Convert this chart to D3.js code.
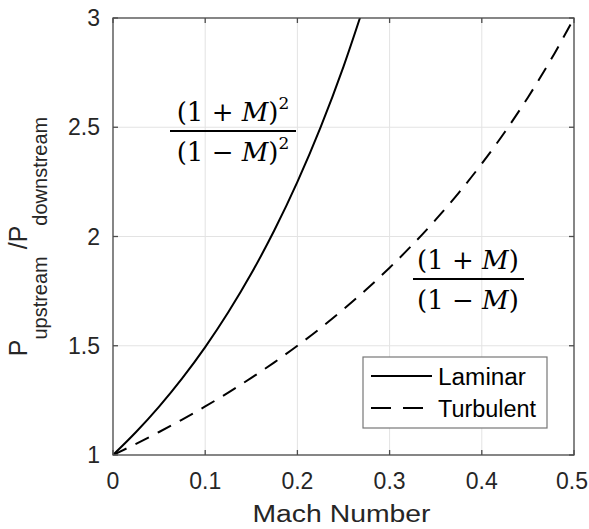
<!DOCTYPE html>
<html><head><meta charset="utf-8">
<script src="https://cdn.jsdelivr.net/npm/d3@7"></script>
<style>body{margin:0;background:#fff}svg{display:block}</style>
</head><body>
<script>
const machLaminar = [0,0.025,0.05,0.075,0.1,0.125,0.15,0.175,0.2,0.225,0.25,0.275];
const laminarRatio = [1,1.1052,1.2216,1.3507,1.4938,1.6531,1.8304,2.0284,2.25,2.4983,2.7778,3.0927];
const machTurbulent = [0,0.025,0.05,0.075,0.1,0.125,0.15,0.175,0.2,0.225,0.25,0.275,0.3,0.325,0.35,0.375,0.4,0.425,0.45,0.475,0.5];
const turbulentRatio = [1,1.0513,1.1053,1.1622,1.2222,1.2857,1.3529,1.4242,1.5,1.5806,1.6667,1.7586,1.8571,1.963,2.0769,2.2,2.3333,2.4783,2.6364,2.8095,3];
const xTicks = [0,0.1,0.2,0.3,0.4,0.5];
const xTickLabels = ["0","0.1","0.2","0.3","0.4","0.5"];
const yTicks = [1,1.5,2,2.5,3];
const yTickLabels = ["1","1.5","2","2.5","3"];
const seriesNames = ["Laminar","Turbulent"];

const W=589,H=529;
const L=113,R=574,T=18,B=455;
const svg=d3.select("body").append("svg").attr("width",W).attr("height",H);
const x=d3.scaleLinear().domain([0,0.5]).range([L,R]);
const y=d3.scaleLinear().domain([1,3]).range([B,T]);
const font="'Liberation Sans', Arial, sans-serif";
const axisCol="#4d4d4d";

// grid
const g=svg.append("g");
g.selectAll(".gx").data(xTicks).enter().append("line")
 .attr("x1",d=>x(d)).attr("x2",d=>x(d)).attr("y1",T).attr("y2",B)
 .attr("stroke","#e3e3e3").attr("stroke-width",1);
g.selectAll(".gy").data(yTicks).enter().append("line")
 .attr("y1",d=>y(d)).attr("y2",d=>y(d)).attr("x1",L).attr("x2",R)
 .attr("stroke","#e3e3e3").attr("stroke-width",1);

// clip
svg.append("clipPath").attr("id","clip").append("rect").attr("x",L).attr("y",T).attr("width",R-L).attr("height",B-T);

const line=d3.line().x(d=>x(d[0])).y(d=>y(d[1])).curve(d3.curveMonotoneX);
const lam=machLaminar.map((m,i)=>[m,laminarRatio[i]]);
const tur=machTurbulent.map((m,i)=>[m,turbulentRatio[i]]);
svg.append("path").datum(tur).attr("d",line).attr("fill","none").attr("stroke","#000")
 .attr("stroke-width",2).attr("stroke-dasharray","15,10").attr("clip-path","url(#clip)");
svg.append("path").datum(lam).attr("d",line).attr("fill","none").attr("stroke","#000")
 .attr("stroke-width",2).attr("clip-path","url(#clip)");

// axes (box with inside ticks)
const ax=svg.append("g");
ax.append("rect").attr("x",L).attr("y",T).attr("width",R-L).attr("height",B-T)
 .attr("fill","none").attr("stroke",axisCol).attr("stroke-width",1.3);
const tl=5;
xTicks.forEach(t=>{
  ax.append("line").attr("x1",x(t)).attr("x2",x(t)).attr("y1",B).attr("y2",B-tl).attr("stroke",axisCol).attr("stroke-width",1.3);
  ax.append("line").attr("x1",x(t)).attr("x2",x(t)).attr("y1",T).attr("y2",T+tl).attr("stroke",axisCol).attr("stroke-width",1.3);
});
yTicks.forEach(t=>{
  ax.append("line").attr("y1",y(t)).attr("y2",y(t)).attr("x1",L).attr("x2",L+tl).attr("stroke",axisCol).attr("stroke-width",1.3);
  ax.append("line").attr("y1",y(t)).attr("y2",y(t)).attr("x1",R).attr("x2",R-tl).attr("stroke",axisCol).attr("stroke-width",1.3);
});
xTicks.forEach((t,i)=>{
  svg.append("text").attr("x",Math.min(x(t),572)).attr("y",489)
   .attr("text-anchor","middle").attr("font-family",font).attr("font-size",23).attr("fill","#262626")
   .text(xTickLabels[i]);
});
yTicks.forEach((t,i)=>{
  svg.append("text").attr("x",100).attr("y",y(t)+8)
   .attr("text-anchor","end").attr("font-family",font).attr("font-size",23).attr("fill","#262626")
   .text(yTickLabels[i]);
});
svg.append("text").attr("x",(L+R)/2-2).attr("y",522)
 .attr("text-anchor","middle").attr("font-family",font).attr("font-size",23).attr("fill","#262626")
 .attr("textLength",178).attr("lengthAdjust","spacingAndGlyphs")
 .text("Mach Number");

// y label
const yl=svg.append("text").attr("transform",`translate(27,${(T+B)/2}) rotate(-90)`)
 .attr("text-anchor","middle").attr("font-family",font).attr("font-size",25).attr("fill","#262626");
yl.append("tspan").text("P");
yl.append("tspan").attr("font-size",20).attr("dy",20).text("upstream");
yl.append("tspan").attr("dy",-20).text(" /P");
yl.append("tspan").attr("font-size",20).attr("dy",20).text("downstream");

// formulas
const serif="'DejaVu Serif','Liberation Serif',serif";
function frac(cx,yb,x1,x2,sup){
  const n=svg.append("text").attr("x",cx).attr("y",yb-10).attr("text-anchor","middle")
   .attr("font-family",serif).attr("font-size",26).attr("fill","#000");
  n.append("tspan").text("(1 + ");
  n.append("tspan").attr("font-style","italic").text("M");
  n.append("tspan").text(")");
  if(sup) n.append("tspan").attr("font-size",17).attr("dy",-12).text("2");
  svg.append("line").attr("x1",x1).attr("x2",x2).attr("y1",yb).attr("y2",yb).attr("stroke","#000").attr("stroke-width",2);
  const d=svg.append("text").attr("x",cx).attr("y",yb+30).attr("text-anchor","middle")
   .attr("font-family",serif).attr("font-size",26).attr("fill","#000");
  d.append("tspan").text("(1 − ");
  d.append("tspan").attr("font-style","italic").text("M");
  d.append("tspan").text(")");
  if(sup) d.append("tspan").attr("font-size",17).attr("dy",-12).text("2");
}
frac(233,131,170,296,true);
frac(468,279,413,524,false);

// legend
const lg=svg.append("g");
lg.append("rect").attr("x",363).attr("y",357).attr("width",184).attr("height",71)
 .attr("fill","#fff").attr("stroke","#777").attr("stroke-width",1.2);
lg.append("line").attr("x1",371).attr("x2",432).attr("y1",376).attr("y2",376).attr("stroke","#000").attr("stroke-width",2);
lg.append("line").attr("x1",371).attr("x2",432).attr("y1",408).attr("y2",408).attr("stroke","#000").attr("stroke-width",2).attr("stroke-dasharray","20,12");
seriesNames.forEach((s,i)=>{
  lg.append("text").attr("x",438).attr("y",385+i*32)
   .attr("font-family",font).attr("font-size",23).attr("fill","#000")
   .attr("textLength",i===0?88:98).attr("lengthAdjust","spacingAndGlyphs").text(s);
});
</script>
</body></html>
